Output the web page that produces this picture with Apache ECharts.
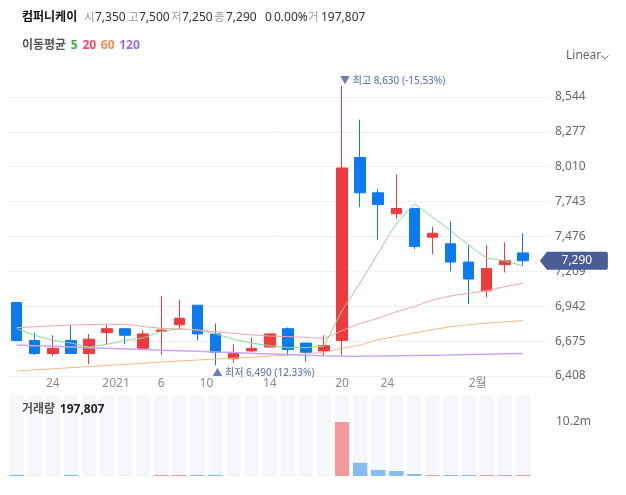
<!DOCTYPE html>
<html>
<head>
<meta charset="utf-8">
<script src="https://cdn.jsdelivr.net/npm/echarts@6/dist/echarts.min.js"></script>
<style>
  html, body { margin: 0; padding: 0; background: #fff; }
  #chart { width: 626px; height: 495px; }
</style>
</head>
<body>
<div id="chart"></div>
<script>
// daily candles, 2020-12-22 .. 2021-02-03
const dates = ['12-22', '12-23', '12-24', '12-28', '12-29', '12-30', '01-04', '01-05', '01-06', '01-07',
  '01-08', '01-11', '01-12', '01-13', '01-14', '01-15', '01-18', '01-19', '01-20', '01-21',
  '01-22', '01-25', '01-26', '01-27', '01-28', '01-29', '02-01', '02-02', '02-03'];
const opens = [6970, 6680, 6580, 6680, 6580, 6740, 6770, 6620, 6750, 6800,
  6950, 6730, 6540, 6600, 6630, 6770, 6660, 6600, 6680, 8080,
  7810, 7650, 7690, 7470, 7420, 7280, 7060, 7260, 7350];
const closes = [6680, 6580, 6620, 6580, 6690, 6770, 6720, 6730, 6760, 6850,
  6730, 6590, 6580, 6620, 6730, 6610, 6590, 6640, 8000, 7810,
  7720, 7690, 7400, 7500, 7280, 7150, 7230, 7290, 7290];
const lows = [6680, 6570, 6560, 6580, 6500, 6650, 6650, 6610, 6570, 6760,
  6680, 6490, 6510, 6590, 6630, 6560, 6520, 6560, 6570, 7700,
  7450, 7610, 7380, 7340, 7210, 6960, 7010, 7200, 7250];
const highs = [6970, 6740, 6720, 6800, 6730, 6800, 6770, 6760, 7020, 6990,
  6950, 6810, 6650, 6700, 6730, 6780, 6660, 6720, 8630, 8370,
  7840, 7950, 7690, 7550, 7590, 7410, 7410, 7430, 7500];
const volumes = [210000, 20000, 20000, 200000, 20000, 20000, 20000, 20000, 200000, 200000,
  200000, 200000, 20000, 20000, 20000, 20000, 20000, 20000, 10210000, 2510000,
  1130000, 940000, 380000, 190000, 190000, 200000, 190000, 190000, 197807];

// moving averages
const ma5 = [6770, 6720, 6680, 6660, 6630, 6650, 6680, 6700, 6750, 6770,
  6760, 6730, 6690, 6660, 6640, 6625, 6625, 6635, 6910, 7120,
  7350, 7575, 7725, 7625, 7520, 7410, 7310, 7290, 7250];
const ma20 = [6778, 6785, 6792, 6798, 6802, 6804, 6804, 6786, 6773, 6768,
  6760, 6747, 6735, 6722, 6714, 6709, 6704, 6695, 6755, 6811,
  6850, 6900, 6939, 6990, 7020, 7041, 7061, 7092, 7118];
const ma60 = [6446, 6455, 6463, 6472, 6480, 6489, 6497, 6506, 6515, 6523,
  6530, 6538, 6545, 6552, 6560, 6568, 6578, 6590, 6620, 6645,
  6685, 6712, 6738, 6762, 6785, 6800, 6812, 6822, 6832];
const ma120 = [6645, 6640, 6635, 6630, 6625, 6620, 6615, 6610, 6606, 6602,
  6597, 6592, 6587, 6582, 6577, 6572, 6567, 6563, 6560, 6560,
  6561, 6563, 6565, 6567, 6569, 6572, 6575, 6578, 6580];

// x tick labels (positions are candle indexes, .5 = between two sessions)
const xTickPos = [2, 5.5, 8, 10.5, 14, 18, 20.5, 25.5];
const xTickLabels = ['24', '2021', '6', '10', '14', '20', '24', '2월'];

const RED = '#ef3b3f';
const BLUE = '#0c7bef';
const FONT = "'Noto Sans', 'Noto Sans CJK KR', sans-serif";
const fmt = v => Math.round(v).toLocaleString('en-US');

const last = dates.length - 1;
const lastClose = closes[last];
const maxVol = Math.max(...volumes);
const change = lastClose - closes[last - 1];
const changePct = (change / closes[last - 1] * 100).toFixed(2);

// header pieces: [x, text, kind]
const header = [
  [22, '컴퍼니케이', 'name'],
  [84, '시', 'key'], [95, fmt(opens[last]), 'val'],
  [128, '고', 'key'], [139, fmt(highs[last]), 'val'],
  [171, '저', 'key'], [182, fmt(lows[last]), 'val'],
  [214, '종', 'key'], [226, fmt(lastClose), 'val'],
  [265, String(change), 'val'], [274, changePct + '%', 'val'],
  [308, '거', 'key'], [321, fmt(volumes[last]), 'val']
];
const headerStyle = {
  name: { fontSize: 12, fontWeight: 'bold', fill: '#111' },
  key: { fontSize: 11.5, fill: '#9a9a9a' },
  val: { fontSize: 12, fill: '#333' }
};

const chart = echarts.init(document.getElementById('chart'));

const option = {
  animation: false,
  textStyle: { fontFamily: FONT },
  title: [
    {
      left: 17, top: 32,
      text: '{t|이동평균} {g|5} {r|20} {o|60} {p|120}',
      textStyle: {
        rich: {
          t: { fontSize: 12, color: '#555', fontFamily: FONT },
          g: { fontSize: 12, color: '#2db83a', fontFamily: FONT },
          r: { fontSize: 12, color: '#f2456a', fontFamily: FONT },
          o: { fontSize: 12, color: '#f78a4c', fontFamily: FONT },
          p: { fontSize: 12, color: '#9c68f2', fontFamily: FONT }
        }
      }
    },
    {
      left: 17, top: 396,
      text: '{k|거래량} {b|' + fmt(volumes[last]) + '}',
      textStyle: {
        rich: {
          k: { fontSize: 12, color: '#555', fontFamily: FONT },
          b: { fontSize: 12, color: '#222', fontWeight: 'bold', fontFamily: FONT }
        }
      }
    }
  ],
  graphic: header.map(([x, text, kind]) => ({
    type: 'text', x: x, y: 18,
    style: Object.assign({ text: text, fontFamily: FONT, textVerticalAlign: 'middle' }, headerStyle[kind])
  })).concat([
    { type: 'text', left: 566, top: 50, style: { text: 'Linear', fill: '#666', fontSize: 12, fontFamily: FONT } },
    { type: 'polyline', shape: { points: [[601.5, 55.5], [605, 59], [608.5, 55.5]] }, style: { stroke: '#777', lineWidth: 1, fill: null } }
  ]),
  grid: [
    { left: 7.6, width: 542.4, top: 62, height: 314 },
    { left: 7.6, width: 542.4, top: 395, height: 81 }
  ],
  xAxis: [
    {
      type: 'category', gridIndex: 0, data: dates.concat(['']), boundaryGap: true,
      axisLine: { show: false }, axisTick: { show: false }, axisLabel: { show: false }, splitLine: { show: false }
    },
    {
      type: 'category', gridIndex: 1, data: dates.concat(['']), boundaryGap: true,
      axisLine: { show: false }, axisTick: { show: false }, axisLabel: { show: false }, splitLine: { show: false }
    },
    {
      type: 'value', gridIndex: 1, min: -0.5, max: dates.length + 0.5,
      axisLine: { show: false }, axisTick: { show: false }, splitLine: { show: false },
      axisLabel: {
        customValues: xTickPos,
        formatter: v => xTickLabels[xTickPos.indexOf(v)] || '',
        color: '#8a8a8a', fontSize: 12, margin: 5
      }
    }
  ],
  yAxis: [
    {
      type: 'value', gridIndex: 0, position: 'right', min: 6408, max: 8811, interval: 267,
      axisLine: { show: false }, axisTick: { show: false },
      axisLabel: { color: '#666', fontSize: 12, margin: 5, showMaxLabel: false, formatter: v => fmt(v) },
      splitLine: { lineStyle: { color: '#f1f1f3' }, showMaxLine: false }
    },
    {
      type: 'value', gridIndex: 1, position: 'right', min: 0, max: maxVol * 1.5,
      axisLine: { show: false }, axisTick: { show: false }, splitLine: { show: false },
      axisLabel: {
        customValues: [maxVol], color: '#666', fontSize: 12, margin: 6,
        formatter: v => (v / 1e6).toFixed(1) + 'm'
      }
    }
  ],
  series: [
    {
      type: 'candlestick', xAxisIndex: 0, yAxisIndex: 0, barWidth: 11, clip: false,
      data: dates.map((d, i) => [opens[i], closes[i], lows[i], highs[i]]),
      itemStyle: { color: RED, color0: BLUE, borderColor: RED, borderColor0: BLUE, borderWidth: 1 },
      markPoint: {
        symbol: 'circle', symbolSize: 0, silent: true,
        data: [
          {
            type: 'max', valueDim: 'highest',
            label: {
              position: 'top', distance: 2, align: 'left', offset: [-2, 3],
              color: '#6b7db3', fontSize: 10, fontWeight: 500,
              formatter: p => '▼ 최고 ' + fmt(p.value) + ' (' + ((lastClose - p.value) / p.value * 100).toFixed(2) + '%)'
            }
          },
          {
            type: 'min', valueDim: 'lowest',
            label: {
              position: 'bottom', distance: 3, align: 'left', offset: [-3, 0],
              color: '#6b7db3', fontSize: 10, fontWeight: 500,
              formatter: p => '▲ 최저 ' + fmt(p.value) + ' (' + ((lastClose - p.value) / p.value * 100).toFixed(2) + '%)'
            }
          },
          {
            coord: [last, lastClose], value: lastClose,
            symbol: 'path://M0,9 L7,0 L66,0 Q68,0 68,2 L68,16 Q68,18 66,18 L7,18 Z',
            symbolSize: [68, 18], symbolOffset: [51, 0], symbolKeepAspect: false,
            itemStyle: { color: '#4a5d97' },
            label: { show: true, position: 'inside', offset: [3, 0], color: '#fff', fontSize: 12, formatter: p => fmt(p.value) }
          }
        ]
      }
    },
    { type: 'line', name: 'MA5', data: ma5, symbol: 'none', silent: true, lineStyle: { color: '#8bd98a', width: 1 } },
    { type: 'line', name: 'MA20', data: ma20, symbol: 'none', silent: true, lineStyle: { color: '#f8a3a6', width: 1 } },
    { type: 'line', name: 'MA60', data: ma60, symbol: 'none', silent: true, lineStyle: { color: '#f7b887', width: 1 } },
    { type: 'line', name: 'MA120', data: ma120, symbol: 'none', silent: true, lineStyle: { color: '#c8a6f6', width: 1.5 } },
    {
      type: 'bar', xAxisIndex: 1, yAxisIndex: 1, barCategoryGap: '20%',
      showBackground: true, backgroundStyle: { color: '#f6f7fb' },
      data: volumes.map((v, i) => {
        const up = i > 0 ? closes[i] >= closes[i - 1] : closes[i] >= opens[i];
        return { value: v, itemStyle: { color: up ? '#f29a9c' : '#84bcf6' } };
      })
    }
  ]
};

chart.setOption(option);
window.addEventListener('resize', () => chart.resize());
</script>
</body>
</html>
